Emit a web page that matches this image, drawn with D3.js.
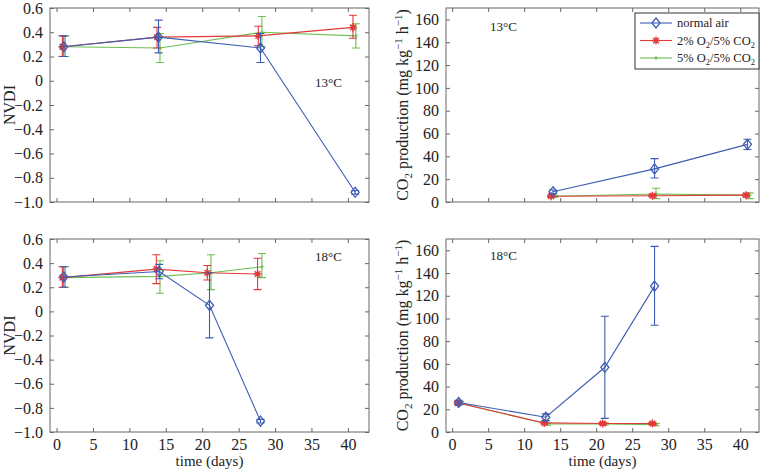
<!DOCTYPE html>
<html>
<head>
<meta charset="utf-8">
<script src="https://cdn.jsdelivr.net/npm/d3@7"></script>
<style>
  body { margin: 0; background: #fff; }
  svg { font-family: "Liberation Serif", "DejaVu Serif", serif; }
</style>
</head>
<body>
<script>
// each point: [day, mean, low, high]
var nvdi13Air = [[1, 0.28, 0.20, 0.37], [14, 0.36, 0.23, 0.50], [28, 0.27, 0.15, 0.39], [41, -0.92, -0.935, -0.905]];
var nvdi13Low = [[0.8, 0.28, 0.20, 0.37], [13.8, 0.36, 0.27, 0.44], [27.7, 0.37, 0.29, 0.45], [40.7, 0.44, 0.35, 0.54]];
var nvdi13High = [[1.2, 0.28, 0.20, 0.37], [14.2, 0.27, 0.15, 0.39], [28.2, 0.40, 0.28, 0.53], [41.1, 0.37, 0.27, 0.47]];

var nvdi18Air = [[1, 0.285, 0.20, 0.37], [14.1, 0.33, 0.27, 0.39], [21, 0.05, -0.22, 0.32], [28, -0.91, -0.925, -0.895]];
var nvdi18Low = [[0.8, 0.28, 0.20, 0.37], [13.7, 0.35, 0.23, 0.47], [20.7, 0.32, 0.26, 0.38], [27.6, 0.31, 0.18, 0.44]];
var nvdi18High = [[1.2, 0.28, 0.20, 0.37], [14.2, 0.29, 0.15, 0.42], [21.2, 0.32, 0.18, 0.47], [28.2, 0.37, 0.28, 0.48]];

var co213Air = [[14, 9, 7.5, 10.5], [28.1, 29, 21, 38], [41, 50.5, 46, 55]];
var co213Low = [[13.75, 5, 4, 6], [27.8, 5.5, 4.5, 6.5], [40.8, 6, 5, 7]];
var co213High = [[14.2, 5, 4, 6], [28.3, 7, 3, 12], [41.3, 6, 3, 8]];

var co218Air = [[0.9, 26, 24, 28], [13, 13, 10, 16], [21.2, 57, 12, 102], [28.1, 128.5, 94, 163.5]];
var co218Low = [[0.8, 25.5, 24, 27], [12.8, 8, 7, 9], [20.9, 7.5, 6.5, 8.5], [27.8, 7.5, 6.5, 8.5]];
var co218High = [[1.1, 25.5, 24, 27], [13.2, 7, 6, 8], [21.2, 7, 6, 8], [28.3, 6.5, 5.5, 7.5]];

var nvdiTicks = [-1.0, -0.8, -0.6, -0.4, -0.2, 0, 0.2, 0.4, 0.6];
var co2Ticks = [0, 20, 40, 60, 80, 100, 120, 140, 160];
var dayTicks = [0, 5, 10, 15, 20, 25, 30, 35, 40];

var seriesColors = ["#3d5db3", "#e23a3a", "#6cbf52"];
var seriesMarkers = ["diamond", "star", "plus"];

var serif = "Liberation Serif, DejaVu Serif, serif";
var W = 764, H = 469;
var svg = d3.select("body").append("svg").attr("width", W).attr("height", H);

var panels = [
  {x0: 50, x1: 369, y0: 8, y1: 202, xd: [-0.9, 42.9], yd: [-1, 0.6], yt: nvdiTicks, kind: "nvdi",
   data: [nvdi13Air, nvdi13Low, nvdi13High], tag: "13°C", tagX: 315, tagY: 87, xlab: false},
  {x0: 446, x1: 759, y0: 8, y1: 202, xd: [-0.85, 42.6], yd: [0, 170], yt: co2Ticks, kind: "co2",
   data: [co213Air, co213Low, co213High], tag: "13°C", tagX: 490, tagY: 31, xlab: false},
  {x0: 50, x1: 369, y0: 239, y1: 432, xd: [-0.9, 42.9], yd: [-1, 0.6], yt: nvdiTicks, kind: "nvdi",
   data: [nvdi18Air, nvdi18Low, nvdi18High], tag: "18°C", tagX: 315, tagY: 261, xlab: true},
  {x0: 446, x1: 759, y0: 239, y1: 432, xd: [-0.85, 42.6], yd: [0, 170], yt: co2Ticks, kind: "co2",
   data: [co218Air, co218Low, co218High], tag: "18°C", tagX: 490, tagY: 260, xlab: true}
];

function marker(g, type, color) {
  if (type == "diamond") {
    g.append("path").attr("d", "M0,-5L4,0L0,5L-4,0Z").attr("fill", "none").attr("stroke", color).attr("stroke-width", 1.3);
  } else if (type == "star") {
    var s = 4;
    g.append("path").attr("d", "M" + -s + ",0H" + s + "M0," + -s + "V" + s +
      "M" + -s*0.7 + "," + -s*0.7 + "L" + s*0.7 + "," + s*0.7 + "M" + -s*0.7 + "," + s*0.7 + "L" + s*0.7 + "," + -s*0.7)
      .attr("stroke", color).attr("stroke-width", 1.5);
  } else {
    g.append("path").attr("d", "M-2,0H2M0,-2V2").attr("stroke", color).attr("stroke-width", 1);
  }
}

function styleAxis(g) {
  g.select(".domain").remove();
  g.attr("font-family", serif).attr("font-size", 16);
  g.selectAll(".tick line").attr("stroke", "#666");
  g.selectAll(".tick text").attr("fill", "#222");
}

panels.forEach(function(p) {
  var x = d3.scaleLinear().domain(p.xd).range([p.x0, p.x1]);
  var y = d3.scaleLinear().domain(p.yd).range([p.y1, p.y0]);
  var fmt = p.kind == "nvdi" ? function(d) { return d === 0 ? "0" : d3.format(".1f")(d); } : d3.format("d");

  svg.append("rect").attr("x", p.x0).attr("y", p.y0).attr("width", p.x1 - p.x0).attr("height", p.y1 - p.y0)
    .attr("fill", "none").attr("stroke", "#666");

  svg.append("g").attr("transform", "translate(0," + p.y1 + ")")
    .call(d3.axisBottom(x).tickValues(dayTicks).tickSize(-4).tickPadding(7).tickFormat(p.xlab ? d3.format("d") : ""))
    .call(styleAxis);
  svg.append("g").attr("transform", "translate(0," + p.y0 + ")")
    .call(d3.axisTop(x).tickValues(dayTicks).tickSize(-4).tickFormat(""))
    .call(styleAxis);
  svg.append("g").attr("transform", "translate(" + p.x0 + ",0)")
    .call(d3.axisLeft(y).tickValues(p.yt).tickSize(-4).tickPadding(7).tickFormat(fmt))
    .call(styleAxis);
  svg.append("g").attr("transform", "translate(" + p.x1 + ",0)")
    .call(d3.axisRight(y).tickValues(p.yt).tickSize(-4).tickFormat(""))
    .call(styleAxis);

  var line = d3.line().x(function(d) { return x(d[0]); }).y(function(d) { return y(d[1]); });

  // draw green, red, then blue on top
  [2, 1, 0].forEach(function(i) {
    var c = seriesColors[i], s = p.data[i];
    var g = svg.append("g");
    g.append("path").datum(s).attr("d", line).attr("fill", "none").attr("stroke", c).attr("stroke-width", 1.1);
    s.forEach(function(d) {
      var xx = x(d[0]);
      g.append("path")
        .attr("d", "M" + xx + "," + y(d[2]) + "V" + y(d[3]) +
          "M" + (xx - 4) + "," + y(d[2]) + "H" + (xx + 4) +
          "M" + (xx - 4) + "," + y(d[3]) + "H" + (xx + 4))
        .attr("stroke", c).attr("stroke-width", 1.1).attr("fill", "none");
      marker(g.append("g").attr("transform", "translate(" + xx + "," + y(d[1]) + ")"), seriesMarkers[i], c);
    });
  });

  svg.append("text").attr("x", p.tagX).attr("y", p.tagY).attr("font-size", 13).attr("fill", "#222").text(p.tag);

  var cx = p.kind == "nvdi" ? 15 : 408, cy = (p.y0 + p.y1) / 2;
  var lab = svg.append("text").attr("transform", "translate(" + cx + "," + cy + ") rotate(-90)")
    .attr("text-anchor", "middle").attr("font-size", 16).attr("fill", "#222");
  if (p.kind == "nvdi") {
    lab.text("NVDI");
  } else {
    lab.append("tspan").text("CO");
    lab.append("tspan").attr("font-size", 11).attr("dy", 4).text("2");
    lab.append("tspan").attr("dy", -4).text(" production (mg kg");
    lab.append("tspan").attr("font-size", 11).attr("dy", -6).text("−1");
    lab.append("tspan").attr("dy", 6).text(" h");
    lab.append("tspan").attr("font-size", 11).attr("dy", -6).text("−1");
    lab.append("tspan").attr("dy", 6).text(")");
  }

  if (p.xlab) {
    svg.append("text").attr("x", (p.x0 + p.x1) / 2).attr("y", 466).attr("text-anchor", "middle")
      .attr("font-size", 15).attr("fill", "#222").text("time (days)");
  }
});

// legend
var legendLabels = [["normal air"], ["2% O", "2", "/5% CO", "2"], ["5% O", "2", "/5% CO", "2"]];
var leg = svg.append("g");
leg.append("rect").attr("x", 635).attr("y", 13).attr("width", 124).attr("height", 56)
  .attr("fill", "#fff").attr("stroke", "#333");
legendLabels.forEach(function(parts, i) {
  var yy = 23 + i * 17.5;
  leg.append("line").attr("x1", 640).attr("x2", 672).attr("y1", yy).attr("y2", yy)
    .attr("stroke", seriesColors[i]).attr("stroke-width", 1.1);
  marker(leg.append("g").attr("transform", "translate(656," + yy + ")"), seriesMarkers[i], seriesColors[i]);
  var t = leg.append("text").attr("x", 677).attr("y", yy + 4).attr("font-size", 12.5).attr("fill", "#222");
  parts.forEach(function(s, k) {
    if (k % 2 == 1) t.append("tspan").attr("font-size", 8.5).attr("dy", 3).text(s);
    else t.append("tspan").attr("dy", k == 0 ? 0 : -3).text(s);
  });
});
</script>
</body>
</html>
